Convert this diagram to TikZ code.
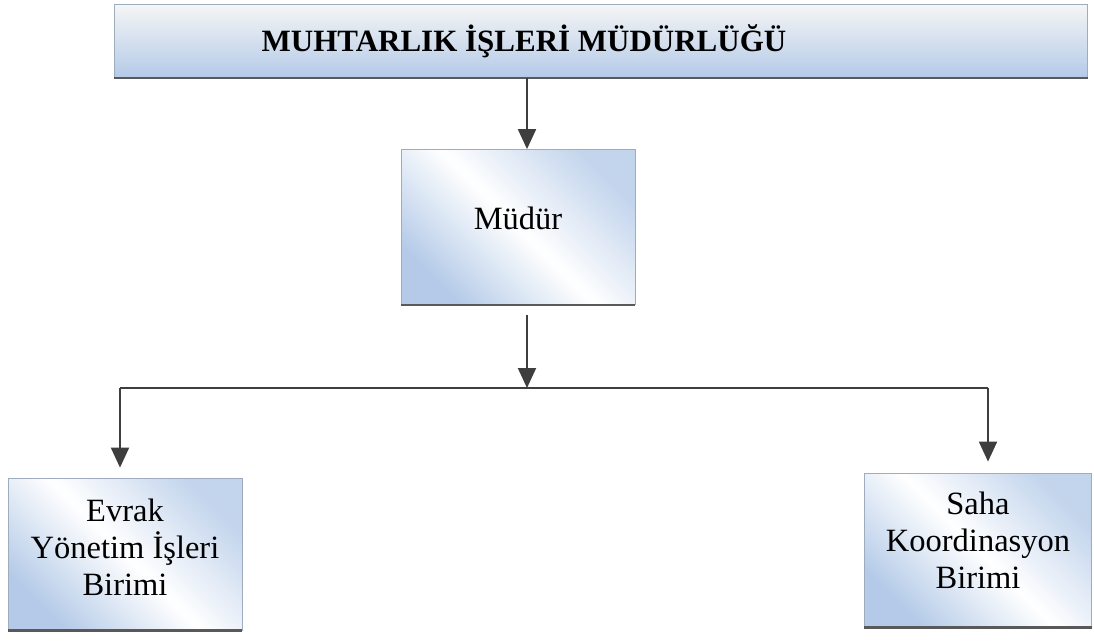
\documentclass[tikz,border=0pt]{standalone}
\usepackage{fontspec}
\setmainfont{Liberation Serif}
\usetikzlibrary{arrows.meta}
\definecolor{boxblue}{RGB}{180,202,232}
\definecolor{linegray}{RGB}{62,62,62}
\tikzstyle{unit}=[shape=rectangle,draw=boxblue!60!gray,line width=0.8pt,left color=boxblue,right color=boxblue!80,middle color=white,shading angle=135,align=center,font=\fontsize{32.5}{37}\selectfont]
\tikzstyle{headbox}=[shape=rectangle,draw=boxblue!60!gray,line width=0.8pt,top color=white!92!gray,bottom color=boxblue]
\tikzstyle{shadowline}=[draw=gray!70!black,line width=2.5pt]
\tikzstyle{link}=[draw=linegray,line width=2pt]
\tikzstyle{linkarrow}=[link,-{Triangle[width=18pt,length=20pt]}]
\def\lev{388}

\begin{document}
\begin{tikzpicture}[x=1pt,y=-1pt]
\useasboundingbox (0,0) rectangle (1094,640);
% header
\node[headbox,minimum width=973pt,minimum height=73pt] (head) at (601,41) {};
\node[font=\fontsize{31}{36}\selectfont\bfseries] (title) at (524,41) {MUHTARLIK İŞLERİ MÜDÜRLÜĞÜ};
\draw[shadowline] (head.south west) -- (head.south east);
% director
\node[unit,text depth=18pt,minimum width=234pt,minimum height=155pt] (mudur) at (518,227) {Müdür};
\draw[shadowline] (mudur.south west) -- (mudur.south east);
% units
\node[unit,text depth=14pt,minimum width=234pt,minimum height=152pt] (evrak) at (125,554) {Evrak\\Yönetim İşleri\\Birimi};
\draw[shadowline] (evrak.south west) -- (evrak.south east);
\node[unit,text depth=20pt,minimum width=227pt,minimum height=154pt] (saha) at (978,550) {Saha\\Koordinasyon\\Birimi};
\draw[shadowline] (saha.south west) -- (saha.south east);

% connectors
\coordinate (split) at (527,\lev);
\coordinate (left) at (120,\lev);
\coordinate (right) at (988,\lev);
\draw[linkarrow] (head.south -| split) -- (mudur.north -| split);
\draw[linkarrow,shorten <=10pt] (mudur.south -| split) -- (split);
\draw[link] (left) -- (right);
\draw[linkarrow,shorten >=10pt] (left) -- (left |- evrak.north);
\draw[linkarrow,shorten >=11pt] (right) -- (right |- saha.north);
\end{tikzpicture}
\end{document}
